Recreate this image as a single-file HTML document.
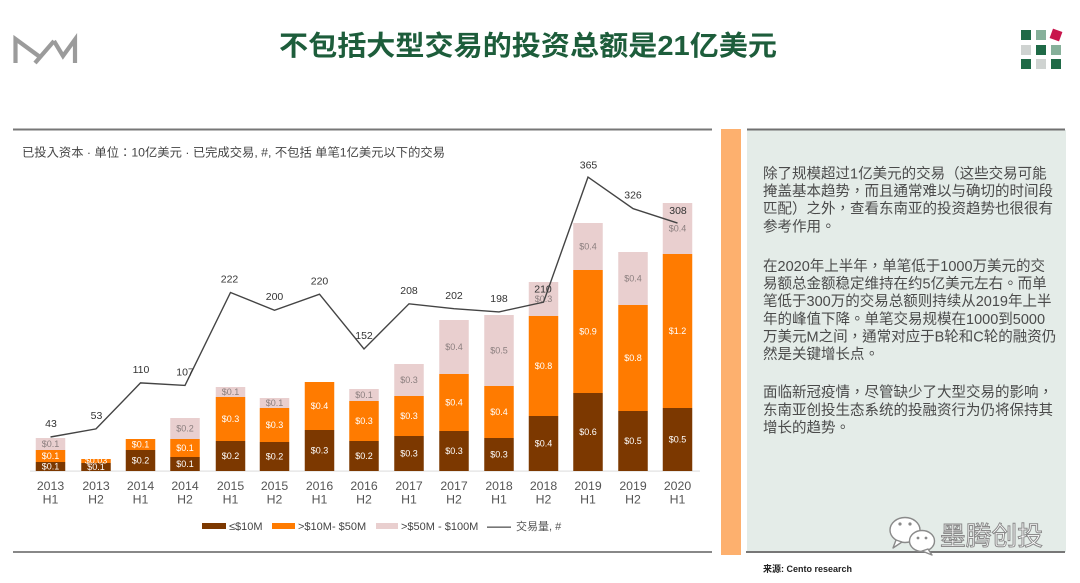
<!DOCTYPE html>
<html>
<head>
<meta charset="utf-8">
<style>
  html,body{margin:0;padding:0;background:#ffffff;}
  body{width:1080px;height:583px;overflow:hidden;position:relative;}
  svg{display:block;}
  .cjk{font-family:"Liberation Sans","Noto Sans CJK TC",sans-serif;}
</style>
</head>
<body>
<svg width="1080" height="583" viewBox="0 0 1080 583" xmlns="http://www.w3.org/2000/svg">
  <rect x="0" y="0" width="1080" height="583" fill="#ffffff"/>

  <!-- MW logo -->
  <g fill="none" stroke="#9b9b9b" stroke-width="4.2" stroke-linejoin="miter" stroke-linecap="butt">
    <polyline points="15.5,63 15.5,39 40,57"/>
    <polyline points="35,63 54,41"/>
    <polyline points="54,41 63,56 75,39.5 75,63"/>
  </g>

  <!-- Title -->
  <text x="279" y="55" textLength="498" lengthAdjust="spacingAndGlyphs" font-family="'Liberation Sans','Noto Sans CJK SC',sans-serif" font-weight="bold" font-size="27.5" fill="#1d5d3b">不包括大型交易的投资总额是21亿美元</text>

  <!-- Right logo grid -->
  <rect x="1021" y="30" width="10" height="10" fill="#1f6a47"/>
  <rect x="1036" y="30" width="10" height="10" fill="#86b09a"/>
  <rect x="1051" y="30" width="10" height="10" fill="#c8154c" transform="rotate(20 1056 35)"/>
  <rect x="1021" y="45" width="10" height="10" fill="#cfd3d1"/>
  <rect x="1036" y="45" width="10" height="10" fill="#1f6a47"/>
  <rect x="1051" y="45" width="10" height="10" fill="#86b09a"/>
  <rect x="1021" y="59" width="10" height="10" fill="#1f6a47"/>
  <rect x="1036" y="59" width="10" height="10" fill="#cfd3d1"/>
  <rect x="1051" y="59" width="10" height="10" fill="#1f6a47"/>

  <!-- Chart frame lines -->
  <rect x="13" y="128.5" width="699" height="2" fill="#777777"/>
  <rect x="13" y="551" width="699" height="2" fill="#888888"/>

  <!-- Chart header -->
  <text x="22" y="156.5" class="cjk" font-size="12" fill="#444444" textLength="423" lengthAdjust="spacingAndGlyphs">已投入资本 · 单位：10亿美元 ·  已完成交易, #, 不包括 单笔1亿美元以下的交易</text>

  <!-- Orange strip -->
  <rect x="721" y="129" width="20" height="426" fill="#fdb06e"/>

  <!-- Right panel -->
  <rect x="747" y="130" width="319" height="422" fill="#e4ece8"/>
  <rect x="747" y="128.5" width="318" height="2" fill="#707070"/>
  <rect x="746" y="551" width="319" height="2" fill="#777777"/>

  <!-- Axis baseline -->
  <rect x="30" y="470.5" width="670" height="1.2" fill="#e2e2e2"/>

  <!-- Bars -->
  <g>
    <rect x="35.75" y="438" width="29.5" height="12" fill="#e9cfcf"/>
    <rect x="35.75" y="450" width="29.5" height="12" fill="#ff7b00"/>
    <rect x="35.75" y="462" width="29.5" height="9" fill="#7c3800"/>
    <rect x="81.25" y="459" width="29.5" height="4" fill="#ff7b00"/>
    <rect x="81.25" y="463" width="29.5" height="8" fill="#7c3800"/>
    <rect x="125.75" y="439" width="29.5" height="11" fill="#ff7b00"/>
    <rect x="125.75" y="450" width="29.5" height="21" fill="#7c3800"/>
    <rect x="170.25" y="418" width="29.5" height="21" fill="#e9cfcf"/>
    <rect x="170.25" y="439" width="29.5" height="18" fill="#ff7b00"/>
    <rect x="170.25" y="457" width="29.5" height="14" fill="#7c3800"/>
    <rect x="215.75" y="387" width="29.5" height="10" fill="#e9cfcf"/>
    <rect x="215.75" y="397" width="29.5" height="44" fill="#ff7b00"/>
    <rect x="215.75" y="441" width="29.5" height="30" fill="#7c3800"/>
    <rect x="259.75" y="398" width="29.5" height="10" fill="#e9cfcf"/>
    <rect x="259.75" y="408" width="29.5" height="34" fill="#ff7b00"/>
    <rect x="259.75" y="442" width="29.5" height="29" fill="#7c3800"/>
    <rect x="304.75" y="382" width="29.5" height="48" fill="#ff7b00"/>
    <rect x="304.75" y="430" width="29.5" height="41" fill="#7c3800"/>
    <rect x="349.25" y="389" width="29.5" height="12" fill="#e9cfcf"/>
    <rect x="349.25" y="401" width="29.5" height="40" fill="#ff7b00"/>
    <rect x="349.25" y="441" width="29.5" height="30" fill="#7c3800"/>
    <rect x="394.25" y="364" width="29.5" height="32" fill="#e9cfcf"/>
    <rect x="394.25" y="396" width="29.5" height="40" fill="#ff7b00"/>
    <rect x="394.25" y="436" width="29.5" height="35" fill="#7c3800"/>
    <rect x="439.25" y="320" width="29.5" height="54" fill="#e9cfcf"/>
    <rect x="439.25" y="374" width="29.5" height="57" fill="#ff7b00"/>
    <rect x="439.25" y="431" width="29.5" height="40" fill="#7c3800"/>
    <rect x="484.25" y="315" width="29.5" height="71" fill="#e9cfcf"/>
    <rect x="484.25" y="386" width="29.5" height="52" fill="#ff7b00"/>
    <rect x="484.25" y="438" width="29.5" height="33" fill="#7c3800"/>
    <rect x="528.75" y="282" width="29.5" height="34" fill="#e9cfcf"/>
    <rect x="528.75" y="316" width="29.5" height="100" fill="#ff7b00"/>
    <rect x="528.75" y="416" width="29.5" height="55" fill="#7c3800"/>
    <rect x="573.25" y="223" width="29.5" height="47" fill="#e9cfcf"/>
    <rect x="573.25" y="270" width="29.5" height="123" fill="#ff7b00"/>
    <rect x="573.25" y="393" width="29.5" height="78" fill="#7c3800"/>
    <rect x="618.25" y="252" width="29.5" height="53" fill="#e9cfcf"/>
    <rect x="618.25" y="305" width="29.5" height="106" fill="#ff7b00"/>
    <rect x="618.25" y="411" width="29.5" height="60" fill="#7c3800"/>
    <rect x="662.75" y="203" width="29.5" height="51" fill="#e9cfcf"/>
    <rect x="662.75" y="254" width="29.5" height="154" fill="#ff7b00"/>
    <rect x="662.75" y="408" width="29.5" height="63" fill="#7c3800"/>
  </g>

  <!-- Segment labels -->
  <g font-family="'Liberation Sans',sans-serif" font-size="9" text-anchor="middle">
    <g fill="#ffffff">
      <text x="50.5" y="469.7">$0.1</text>
      <text x="50.5" y="459.2">$0.1</text>
      <text x="96" y="470.2">$0.1</text>
      <text x="96" y="463.5">$0.03</text>
      <text x="140.5" y="463.7">$0.2</text>
      <text x="140.5" y="447.7">$0.1</text>
      <text x="185" y="467.2">$0.1</text>
      <text x="185" y="451.2">$0.1</text>
      <text x="230.5" y="459.2">$0.2</text>
      <text x="230.5" y="422.2">$0.3</text>
      <text x="274.5" y="459.7">$0.2</text>
      <text x="274.5" y="428.2">$0.3</text>
      <text x="319.5" y="453.7">$0.3</text>
      <text x="319.5" y="409.2">$0.4</text>
      <text x="364" y="459.2">$0.2</text>
      <text x="364" y="424.2">$0.3</text>
      <text x="409" y="456.7">$0.3</text>
      <text x="409" y="419.2">$0.3</text>
      <text x="454" y="454.2">$0.3</text>
      <text x="454" y="405.7">$0.4</text>
      <text x="499" y="457.7">$0.3</text>
      <text x="499" y="415.2">$0.4</text>
      <text x="543.5" y="446.7">$0.4</text>
      <text x="543.5" y="369.2">$0.8</text>
      <text x="588" y="435.2">$0.6</text>
      <text x="588" y="334.7">$0.9</text>
      <text x="633" y="444.2">$0.5</text>
      <text x="633" y="361.2">$0.8</text>
      <text x="677.5" y="442.7">$0.5</text>
      <text x="677.5" y="334.2">$1.2</text>
    </g>
    <g fill="#8a7e7e">
      <text x="50.5" y="447.2">$0.1</text>
      <text x="185" y="431.7">$0.2</text>
      <text x="230.5" y="395.2">$0.1</text>
      <text x="274.5" y="406.2">$0.1</text>
      <text x="364" y="398.2">$0.1</text>
      <text x="409" y="383.2">$0.3</text>
      <text x="454" y="350.2">$0.4</text>
      <text x="499" y="353.7">$0.5</text>
      <text x="543.5" y="302.2">$0.3</text>
      <text x="588" y="249.7">$0.4</text>
      <text x="633" y="281.7">$0.4</text>
      <text x="677.5" y="231.7">$0.4</text>
    </g>
  </g>

  <!-- Deals line -->
  <polyline fill="none" stroke="#444444" stroke-width="1.4" stroke-linejoin="miter"
    points="50.5,437 96,428.9 140.5,382.9 185,385.4 230.5,292.5 274.5,310.3 319.5,294.2 364,349 409,303.8 454,308.7 499,311.9 543.5,302.2 588,177.1 633,208.6 677.5,223.1"/>

  <!-- Line labels -->
  <g font-family="'Liberation Sans',sans-serif" font-size="10.5" fill="#333333" text-anchor="middle">
    <text x="51" y="427">43</text>
    <text x="96.5" y="419">53</text>
    <text x="141" y="373">110</text>
    <text x="185" y="375.5">107</text>
    <text x="229.5" y="282.5">222</text>
    <text x="274.5" y="300">200</text>
    <text x="319.5" y="284.5">220</text>
    <text x="364" y="339">152</text>
    <text x="409" y="294">208</text>
    <text x="454" y="299">202</text>
    <text x="499" y="302">198</text>
    <text x="543" y="292.5">210</text>
    <text x="588.5" y="168.5">365</text>
    <text x="633" y="198.5">326</text>
    <text x="678" y="214">308</text>
  </g>

  <!-- X axis labels -->
  <g font-family="'Liberation Sans',sans-serif" font-size="12.3" fill="#555555" text-anchor="middle">
    <text x="50.5" y="490">2013</text><text x="50.5" y="503.5">H1</text>
    <text x="96" y="490">2013</text><text x="96" y="503.5">H2</text>
    <text x="140.5" y="490">2014</text><text x="140.5" y="503.5">H1</text>
    <text x="185" y="490">2014</text><text x="185" y="503.5">H2</text>
    <text x="230.5" y="490">2015</text><text x="230.5" y="503.5">H1</text>
    <text x="274.5" y="490">2015</text><text x="274.5" y="503.5">H2</text>
    <text x="319.5" y="490">2016</text><text x="319.5" y="503.5">H1</text>
    <text x="364" y="490">2016</text><text x="364" y="503.5">H2</text>
    <text x="409" y="490">2017</text><text x="409" y="503.5">H1</text>
    <text x="454" y="490">2017</text><text x="454" y="503.5">H2</text>
    <text x="499" y="490">2018</text><text x="499" y="503.5">H1</text>
    <text x="543.5" y="490">2018</text><text x="543.5" y="503.5">H2</text>
    <text x="588" y="490">2019</text><text x="588" y="503.5">H1</text>
    <text x="633" y="490">2019</text><text x="633" y="503.5">H2</text>
    <text x="677.5" y="490">2020</text><text x="677.5" y="503.5">H1</text>
  </g>

  <!-- Legend -->
  <rect x="202" y="523" width="24" height="6" fill="#7c3800"/>
  <text x="229" y="530" font-family="'Liberation Sans',sans-serif" font-size="11" fill="#444444">≤$10M</text>
  <rect x="272" y="523" width="23" height="6" fill="#ff7b00"/>
  <text x="298" y="530" font-family="'Liberation Sans',sans-serif" font-size="11" fill="#444444">&gt;$10M- $50M</text>
  <rect x="376" y="523" width="22" height="6" fill="#e9cfcf"/>
  <text x="401" y="530" font-family="'Liberation Sans',sans-serif" font-size="11" fill="#444444">&gt;$50M - $100M</text>
  <rect x="487" y="526.5" width="24" height="1.3" fill="#555555"/>
  <text x="516" y="530" class="cjk" font-size="11" fill="#555555">交易量, #</text>

  <!-- Right panel text -->
  <g class="cjk" font-size="14.5" fill="#4a4a4a">
    <text x="763" y="178.5">除了规模超过1亿美元的交易（这些交易可能</text>
    <text x="763" y="196.1">掩盖基本趋势，而且通常难以与确切的时间段</text>
    <text x="763" y="213.7">匹配）之外，查看东南亚的投资趋势也很很有</text>
    <text x="763" y="231.3">参考作用。</text>

    <text x="763" y="271">在2020年上半年，单笔低于1000万美元的交</text>
    <text x="763" y="288.6">易额总金额稳定维持在约5亿美元左右。而单</text>
    <text x="763" y="306.2">笔低于300万的交易总额则持续从2019年上半</text>
    <text x="763" y="323.8">年的峰值下降。单笔交易规模在1000到5000</text>
    <text x="763" y="341.4">万美元M之间，通常对应于B轮和C轮的融资仍</text>
    <text x="763" y="359">然是关键增长点。</text>

    <text x="763" y="397.2">面临新冠疫情，尽管缺少了大型交易的影响，</text>
    <text x="763" y="414.8">东南亚创投生态系统的投融资行为仍将保持其</text>
    <text x="763" y="432.4">增长的趋势。</text>
  </g>

  <!-- Watermark -->
  <g stroke="#8a8a8a" stroke-width="1.4" fill="#ffffff">
    <ellipse cx="905" cy="530" rx="15" ry="12.5"/>
    <path d="M896,540 L893,548 L902,542 Z" stroke-linejoin="round"/>
    <ellipse cx="922" cy="541" rx="12.5" ry="10.5"/>
    <path d="M928,549 L932,555 L922,551 Z" stroke-linejoin="round"/>
  </g>
  <g fill="#8a8a8a">
    <circle cx="900" cy="524" r="1.6"/>
    <circle cx="910" cy="524" r="1.6"/>
    <circle cx="918" cy="538" r="1.4"/>
    <circle cx="926" cy="538" r="1.4"/>
  </g>
  <text x="940" y="545" class="cjk" font-size="26" fill="#ffffff" stroke="#8a8a8a" stroke-width="1" textLength="103" lengthAdjust="spacingAndGlyphs">墨腾创投</text>

  <!-- Source -->
  <text x="763" y="572" class="cjk" font-size="9" font-weight="bold" fill="#222222">来源: Cento research</text>
</svg>
</body>
</html>
